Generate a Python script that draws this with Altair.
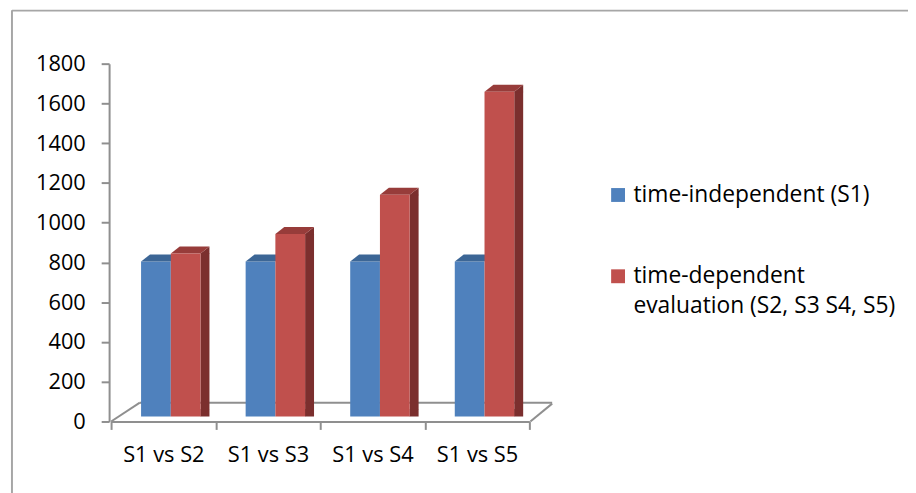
import altair as alt
import pandas as pd

categories = ["S1 vs S2", "S1 vs S3", "S1 vs S4", "S1 vs S5"]
series_names = ["time-independent (S1)", "time-dependent evaluation (S2, S3 S4, S5)"]
s1_values = [780, 780, 780, 780]
s2_values = [820, 918, 1116, 1634]
y_ticks = [0, 200, 400, 600, 800, 1000, 1200, 1400, 1600, 1800]

FONT = "Open Sans"
FS = 22
GRAY = "#8f8f8f"
BLUE, BLUE_TOP = "#4f81bd", "#3c6696"
RED, RED_TOP, RED_SIDE = "#c0504d", "#973c3a", "#7b2f2e"

W, H = 422, 361
PL, PT = 104, 54

df_blue = pd.DataFrame({"category": categories, "value": s1_values, "series": series_names[0]})
df_red = pd.DataFrame({"category": categories, "value": s2_values, "series": series_names[1]})
one = pd.DataFrame({"a": [0]})

xscale = alt.Scale(domain=categories, paddingInner=0, paddingOuter=0)
yscale = alt.Scale(domain=[0, 1800], nice=False)
cscale = alt.Scale(domain=series_names, range=[BLUE, RED])

xaxis = alt.Axis(labelAngle=0, labelFont=FONT, labelFontSize=FS, labelColor="#000",
                 domainColor=GRAY, domainWidth=2, tickColor=GRAY, tickWidth=2,
                 tickSize=8, tickBand="extent", labelPadding=15)
yaxis = alt.Axis(values=y_ticks, format="d", labelFont=FONT, labelFontSize=FS, labelColor="#000",
                 domainColor=GRAY, domainWidth=2, tickColor=GRAY, tickWidth=2,
                 tickSize=8, labelPadding=16, offset=2, grid=False)
X = alt.X("category:N", scale=xscale, sort=categories, title=None, axis=xaxis)
Y = alt.Y("value:Q", scale=yscale, title=None, axis=yaxis)

legend = alt.Legend(orient="none", legendX=500, legendY=128, title=None, padding=0,
                    symbolType="M-7,-14H7V0H-7Z", symbolSize=4, symbolStrokeWidth=0,
                    labelFont=FONT, labelFontSize=23, labelColor="#000", labelLimit=400,
                    labelBaseline="alphabetic", labelOffset=4, rowPadding=58,
                    labelExpr="datum.label == '" + series_names[1] + "' ? ['time-dependent', 'evaluation (S2, S3 S4, S5)'] : datum.label")

def pt(shape, color, dx, dy=-5):
    return dict(shape=shape, size=4, filled=True, opacity=1, color=color,
                strokeWidth=0, xOffset=dx, yOffset=dy)

TOP = "M-15,0L-6,-7L24,-7L15,0Z"

# floor / frame decorations
floor_back = alt.Chart(one).mark_rule(color=GRAY, strokeWidth=2).encode(
    x=alt.value(29), x2=alt.value(445), y=alt.value(342))
floor_left = alt.Chart(one).mark_rule(color=GRAY, strokeWidth=2).encode(
    x=alt.value(0), x2=alt.value(29), y=alt.value(361), y2=alt.value(342))
floor_right = alt.Chart(one).mark_rule(color=GRAY, strokeWidth=2).encode(
    x=alt.value(423), x2=alt.value(445), y=alt.value(361), y2=alt.value(343))
frame_left = alt.Chart(one).mark_rule(color="#a6a6a6", strokeWidth=2).encode(
    x=alt.value(-100), y=alt.value(-54), y2=alt.value(440))
frame_top = alt.Chart(one).mark_rule(color="#a6a6a6", strokeWidth=2).encode(
    x=alt.value(-100), x2=alt.value(810), y=alt.value(-53.5))

blue_front = alt.Chart(df_blue).mark_bar(width=30, xOffset=-7.5, x2Offset=-7.5, yOffset=-5, y2Offset=-5).encode(
    x=X, y=Y, color=alt.Color("series:N", scale=cscale, legend=legend))
blue_top = alt.Chart(df_blue).mark_point(**pt(TOP, BLUE_TOP, -7.5)).encode(x=X, y=Y)

red_side = alt.Chart(df_red).mark_bar(width=9, color=RED_SIDE, xOffset=42, x2Offset=42, yOffset=-5, y2Offset=-12).encode(x=X, y=Y)
red_side_t = alt.Chart(df_red).mark_point(**pt("M15,0L24,-7L24,0.5L15,0.5Z", RED_SIDE, 22.5)).encode(x=X, y=Y)
red_side_b = alt.Chart(df_red).transform_calculate(value="0").mark_point(
    **pt("M15,-7.5L24,-7.5L15,0Z", RED_SIDE, 22.5)).encode(x=X, y=Y)
red_top = alt.Chart(df_red).mark_point(**pt(TOP, RED_TOP, 22.5)).encode(x=X, y=Y)
red_front = alt.Chart(df_red).mark_bar(width=30, xOffset=22.5, x2Offset=22.5, yOffset=-5, y2Offset=-5).encode(
    x=X, y=Y, color=alt.Color("series:N", scale=cscale, legend=legend))

chart = alt.layer(
    frame_left, frame_top, floor_back, floor_left, floor_right,
    blue_front, blue_top, red_side, red_side_t, red_side_b, red_top, red_front
).properties(
    width=W, height=H,
    autosize=alt.AutoSizeParams(type="none"),
    padding={"left": PL, "top": PT, "right": 908 - PL - W, "bottom": 485 - PT - H},
).configure(
    background="white",
    style={"guide-label": {"lineHeight": 30}},
    view=alt.ViewConfig(stroke=None),
)

chart.save("out.html", embed_options={"renderer": "svg", "actions": False})
